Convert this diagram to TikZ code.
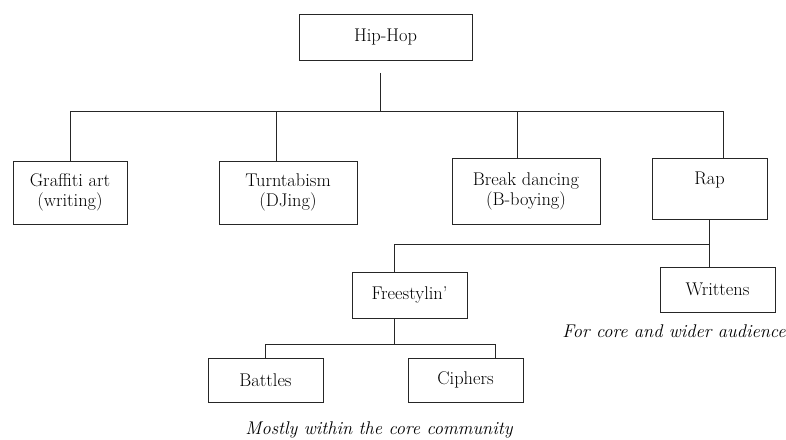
\documentclass[tikz,border=0pt]{standalone}
\usepackage{tikz}
\usetikzlibrary{positioning}

\begin{document}
\begin{tikzpicture}[x=1bp,y=-1bp,line width=0.9bp,draw=black!85]
	\tikzstyle{box}=[draw,rectangle,inner sep=0pt,align=center,font=\fontsize{18.4bp}{20bp}\selectfont]
	\tikzstyle{note}=[inner sep=0pt,anchor=base,font=\fontsize{18.4bp}{20bp}\selectfont\itshape]
	\useasboundingbox (0,0) rectangle (786,440);

	% Draw the top node
	\node[box,minimum width=173bp,minimum height=46bp] (H) at (385.5,37) {Hip-Hop};
	% Draw the four elements
	\foreach \name/\x/\y/\w/\h/\txt in {G/70/192.5/114/63/{Graffiti art\\(writing)},
		T/288/192.5/138/63/{Turntabism\\(DJing)},
		B/526/191/148/66/{Break dancing\\(B-boying)},
		R/709.5/188.5/115/61/{Rap\\~}}
	\node[box,minimum width=\w bp,minimum height=\h bp] (\name) at (\x,\y) {\txt};
	% Draw the rap forms
	\node[box,minimum width=115bp,minimum height=46bp] (F) at (409.5,295) {Freestylin'};
	\node[box,minimum width=115bp,minimum height=45bp] (W) at (717.5,289.5) {Writtens};
	\node[box,minimum width=115bp,minimum height=44bp] (Ba) at (265.5,380) {Battles};
	\node[box,minimum width=115bp,minimum height=44bp] (C) at (465.5,380) {Ciphers};
	% Branch points
	\coordinate (stem) at (380,73);
	\coordinate (hub) at (380,111);
	\coordinate (rhub) at (709,244);
	\coordinate (fhub) at (394,344);
	% Connect the top node with the four elements
	\draw (stem) -- (hub);
	\foreach \name/\dx in {G/0,T/-12,B/-9,R/13.5}
	\draw (hub) -| ([xshift=\dx bp]\name.north);
	% Connect rap with its forms
	\draw (rhub |- R.south) -- (rhub |- W.north);
	\draw (rhub) -| ([xshift=-15.5bp]F.north);
	% Connect freestylin' with battles and ciphers
	\draw (fhub |- F.south) -- (fhub);
	\draw (fhub) -| (Ba.north);
	\draw (fhub) -| ([xshift=29.5bp]C.north);
	% Annotate the audiences
	\node[note] (wa) at (674,338) {For core and wider audience};
	\node[note] (fa) at (379,434) {Mostly within the core community};
\end{tikzpicture}
\end{document}
